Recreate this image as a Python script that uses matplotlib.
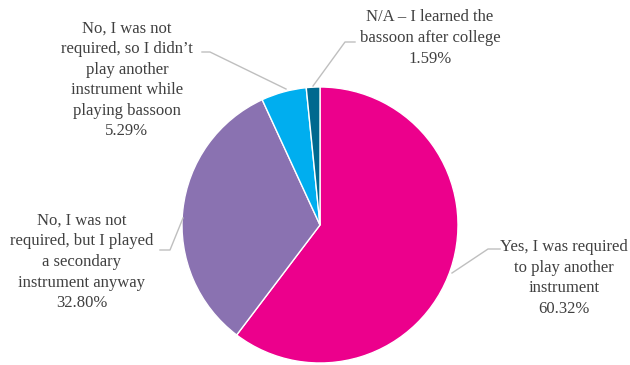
import matplotlib.pyplot as plt

# survey answers, clockwise from 12 o'clock
answers = [
    "Yes, I was required\nto play another\ninstrument",
    "No, I was not\nrequired, but I played\na secondary\ninstrument anyway",
    "No, I was not\nrequired, so I didn\u2019t\nplay another\ninstrument while\nplaying bassoon",
    "N/A \u2013 I learned the\nbassoon after college",
]
shares = [60.32, 32.80, 5.29, 1.59]
colors = ["#EC008C", "#8A72B1", "#00AEEF", "#00698F"]

W, H = 630, 365
fig = plt.figure(figsize=(W / 100, H / 100), dpi=100)
ax = fig.add_axes([0, 0, 1, 1])

cx, cy, r = 320, H - 225, 138
ax.pie(shares, colors=colors, startangle=90, counterclock=False,
       center=(cx, cy), radius=r, frame=True,
       wedgeprops=dict(edgecolor="white", linewidth=1))
ax.set_xlim(0, W)
ax.set_ylim(0, H)
ax.set_aspect("equal")
ax.axis("off")

# label placement (pixel coords, y measured from top) and leader lines
label_pos = [(564, 278), (82, 262), (127, 80), (430, 38)]
leaders = [
    [(452, 273), (488, 249), (500, 249)],
    [(183, 218), (170, 250), (160, 250)],
    [(286, 89), (210, 52), (202, 52)],
    [(313, 86), (345, 42), (355, 42)],
]

for name, val, (lx, ly), pts in zip(answers, shares, label_pos, leaders):
    ax.text(lx, H - ly, f"{name}\n{val:.2f}%", ha="center", va="center",
            multialignment="center", fontsize=12, family="Liberation Serif",
            color="#404040", linespacing=1.38)
    xs = [p[0] for p in pts]
    ys = [H - p[1] for p in pts]
    ax.plot(xs, ys, color="#BFBFBF", linewidth=1)

fig.savefig("out.png", dpi=100)
